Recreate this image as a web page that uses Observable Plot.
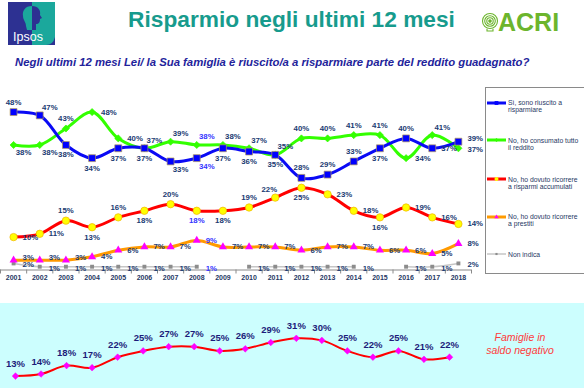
<!DOCTYPE html>
<html><head><meta charset="utf-8">
<script src="https://cdn.jsdelivr.net/npm/d3@7"></script>
<script src="https://cdn.jsdelivr.net/npm/@observablehq/plot@0.6"></script>
<style>
html,body{margin:0;padding:0;background:#fff;}
body{width:584px;height:388px;overflow:hidden;position:relative;font-family:"Liberation Sans",Arial,sans-serif;}
#header{position:absolute;left:0;top:0;}
#main{position:absolute;left:0;top:80px;}
#legend{position:absolute;left:485px;top:87px;width:120px;height:187px;border:1px solid #8a8a8a;box-sizing:border-box;}
#band{position:absolute;left:0;top:303px;width:584px;height:85px;background:#ccfefe;}
#bottom{position:absolute;left:0;top:0;}
#note{position:absolute;left:470px;top:28px;width:100px;text-align:center;color:#ff3b3b;font-style:italic;font-size:10.5px;line-height:13px;}
.lg{position:absolute;left:1px;}
.lg svg{position:absolute;left:0;}
.lg div{position:absolute;left:21px;width:92px;font-size:6.8px;line-height:7.6px;color:#1f3864;white-space:nowrap;}
</style>
</head><body>
<svg id="header" width="584" height="80">
  <g transform="translate(8,2)">
    <rect width="47" height="43" fill="#2d3192"/>
    <path d="M24 0 H47 V35 Q45 43 38 43 H24 Z" fill="#1ba89c"/>
    <path d="M24 4 C17 4 14 9 15 14 C15 18 18 20 18 24 L19 28 L24 28 Z" fill="#1ba89c"/>
    <path d="M24 4 C30 4 33 8 32 13 L34 16 L32 17 C32 20 31 22 28 22 L28 28 L24 28 Z" fill="#2d3192"/>
    <text x="5" y="39" fill="#fff" font-size="12.5" font-family="Liberation Sans, Arial">Ipsos</text>
  </g>
  <text id="title" x="291.5" y="27" text-anchor="middle" font-weight="bold" font-size="22.5" fill="#179b8d" font-family="Liberation Sans, Arial">Risparmio negli ultimi 12 mesi</text>
  <g transform="translate(490,21)" fill="none" stroke="#6cb52d" stroke-width="1.1">
    <circle r="7.5"/><circle r="5.3"/><circle r="3.2"/><circle r="1.2" fill="#6cb52d"/>
    <path d="M-3 8 L-3 10 L3 10 L3 8" />
  </g>
  <text x="498" y="30.5" font-weight="bold" font-size="25" fill="#6cb52d" font-family="Liberation Sans, Arial">ACRI</text>
  <text id="subtitle" x="15" y="65.5" font-weight="bold" font-style="italic" font-size="10" fill="#23239b" font-family="Liberation Sans, Arial">Negli ultimi 12 mesi Lei/ la Sua famiglia è riuscito/a a risparmiare parte del reddito guadagnato?</text>
</svg>
<div id="main"></div>
<div id="legend"></div>
<div id="band"><div id="bottom"></div><div id="note">Famiglie in<br>saldo negativo</div></div>
<script>
// ---- data ----
const years = [2001,2002,2003,2004,2005,2006,2007,2008,2009,2010,2011,2012,2013,2014,2015,2016,2017,2018];
const riuscito   = [48,47,38,34,37,37,33,34,37,36,35,28,29,33,37,40,37,39];
const consumato  = [38,38,43,48,40,37,39,38,38,37,35,40,40,41,41,34,41,37];
const accumulati = [10,11,15,13,16,18,20,18,18,19,22,25,23,18,16,19,16,14];
const prestiti   = [3,3,3,4,6,7,7,9,7,7,7,6,7,7,6,6,5,8];
const nonIndica  = [2,1,1,1,1,1,1,1,null,1,1,1,1,1,null,1,1,2];
const saldoNegativo = [13,14,18,17,22,25,27,27,25,26,29,31,30,25,22,25,21,22];
const seriesNames = ["Sì, sono riuscito a risparmiare","No, ho consumato tutto il reddito","No, ho dovuto ricorrere a risparmi accumulati","No, ho dovuto ricorrere a prestiti","Non indica"];
const legendLines = [["Sì, sono riuscito a","risparmiare"],["No, ho consumato tutto","il reddito"],["No, ho dovuto ricorrere","a risparmi accumulati"],["No, ho dovuto ricorrere","a prestiti"],["Non indica"]];
const highlightYear = 2008;

// ---- label placement (style) ----
const posRiuscito   = ["t","tr","b","b","b","b","br","br","b","b","b","t","t","t","b","t","r","ru"];
const posConsumato  = ["br","br","t","r","r","tr","tr","tr","tr","tr","tr","t","t","t","t","r","tr","rd"];
const posAccumulati = ["r","r","t","b","t","b","t","b","b","t","tl","b","r","r","b","r","r","r"];
const posPrestiti   = ["ru","ru","ru","r","r","r","r","r","r","r","r","r","r","r","r","r","r","r"];
const posNonIndica  = years.map(() => "rd");
const posMap = {
  t:{dx:0,dy:-10,a:"middle"}, b:{dx:0,dy:10,a:"middle"}, r:{dx:9,dy:0,a:"start"},
  ru:{dx:9,dy:-3,a:"start"}, rd:{dx:9,dy:1.5,a:"start"},
  tr:{dx:10,dy:-8,a:"middle"}, br:{dx:10,dy:8,a:"middle"}, tl:{dx:-6,dy:-8,a:"middle"}
};

// drawing order: back to front; leg = index into seriesNames / legendLines
const series = [
  {leg:4, values:nonIndica,  pos:posNonIndica,  line:"#c6c6c6", lw:1.5, symbol:"square",   r:2.2, fill:"#8c8c8c", stroke:"none"},
  {leg:3, values:prestiti,   pos:posPrestiti,   line:"#ff9a00", lw:3,   symbol:"triangle", r:3.0, fill:"#ff00ff", stroke:"none"},
  {leg:2, values:accumulati, pos:posAccumulati, line:"#ff0000", lw:3,   symbol:"circle",   r:3.7, fill:"#ffff00", stroke:"#f0b400"},
  {leg:1, values:consumato,  pos:posConsumato,  line:"#33ff00", lw:3,   symbol:"diamond2", r:3.2, fill:"#33ff00", stroke:"#33ff00"},
  {leg:0, values:riuscito,   pos:posRiuscito,   line:"#0a0af5", lw:3,   symbol:"square",   r:3.9, fill:"#0000ff", stroke:"#b49c5a"}
];

// fit header texts
function fit(id, w){ const t=document.getElementById(id); const fs=+t.getAttribute("font-size"); t.setAttribute("font-size", fs*w/t.getComputedTextLength()); }
fit("title", 327); fit("subtitle", 515);

const labelColor = d => d.year === highlightYear ? "#3535ff" : "#203a72";
const marks = [];
marks.push(Plot.ruleY([0], {stroke:"#8a8a8a", strokeWidth:1}));
const bounds = years.map(y => y - 0.5).concat([years[years.length-1] + 0.5]);
marks.push(Plot.axisX({ticks:bounds, tickSize:4, tickFormat:() => "", stroke:"#8a8a8a", label:null}));
marks.push(Plot.axisX({ticks:years, tickSize:0, tickPadding:5, tickFormat:d => String(d), fontSize:7, fontWeight:"bold", color:"#1f3864", label:null}));
const allRows = [];
for (const s of series) {
  const rows = years.map((yr,i) => ({year:yr, value:s.values[i], pos:s.pos[i]}));
  marks.push(Plot.line(rows, {x:"year", y:"value", stroke:s.line, strokeWidth:s.lw, curve:"catmull-rom"}));
  const valid = rows.filter(d => d.value != null);
  marks.push(Plot.dot(valid, {x:"year", y:"value", symbol:() => s.symbol, r:s.r, fill:s.fill, stroke:s.stroke, strokeWidth:0.7}));
  allRows.push(...valid);
}
for (const [code, p] of Object.entries(posMap)) {
  marks.push(Plot.text(allRows.filter(d => d.pos === code), {
    x:"year", y:"value", text:d => d.value + "%", dx:p.dx, dy:p.dy, textAnchor:p.a,
    fontSize:7.8, fontWeight:"bold", fill:labelColor
  }));
}
const main = Plot.plot({
  width:584, height:205, marginLeft:0, marginRight:113, marginTop:25, marginBottom:15.5,
  x:{domain:[2000.5, 2018.5], label:null},
  y:{domain:[0,50], axis:null},
  symbol:{type:"identity"},
  style:{background:"transparent", overflow:"visible", fontFamily:"Liberation Sans, Arial"},
  marks
});
document.getElementById("main").appendChild(main);

// legend
const lgTops = [14.7, 52.3, 91.3, 128.7, 166.3];
const lg = document.getElementById("legend");
const symTypes = {square:d3.symbolSquare, triangle:d3.symbolTriangle, circle:d3.symbolCircle, diamond2:d3.symbolDiamond2};
legendLines.forEach((lines, k) => {
  const s = series.find(t => t.leg === k);
  const e = document.createElement("div");
  e.className = "lg"; e.style.top = lgTops[k] + "px";
  const sym = d3.symbol().type(symTypes[s.symbol]).size(Math.PI*Math.pow(s.r*0.55,2))();
  e.innerHTML = `<svg width="19" height="8" style="top:-4px"><line x1="0" x2="19" y1="4" y2="4" stroke="${s.line}" stroke-width="${s.lw}"/><path transform="translate(9.5,4)" d="${sym}" fill="${s.fill}"/></svg><div style="top:-3.8px">${lines.join("<br>")}</div>`;
  lg.appendChild(e);
});

// bottom panel
const bottomRows = years.map((yr,i) => ({year:yr, value:saldoNegativo[i]}));
const bottom = Plot.plot({
  width:584, height:85, marginLeft:15, marginRight:135, marginTop:15.9, marginBottom:6.1,
  x:{domain:[2001,2018], axis:null},
  y:{domain:[10,40], axis:null},
  style:{background:"transparent", overflow:"visible", fontFamily:"Liberation Sans, Arial"},
  marks:[
    Plot.line(bottomRows, {x:"year", y:"value", stroke:"#ff0000", strokeWidth:2, curve:"catmull-rom"}),
    Plot.dot(bottomRows, {x:"year", y:"value", symbol:"diamond2", r:3, fill:"#ff00ff", stroke:"#ff00ff", strokeWidth:0.5}),
    Plot.text(bottomRows, {x:"year", y:"value", text:d => d.value + "%", dy:-12.5, fontSize:9.5, fontWeight:"bold", fill:"#1c1c7a"})
  ]
});
document.getElementById("bottom").appendChild(bottom);
</script>
</body></html>
